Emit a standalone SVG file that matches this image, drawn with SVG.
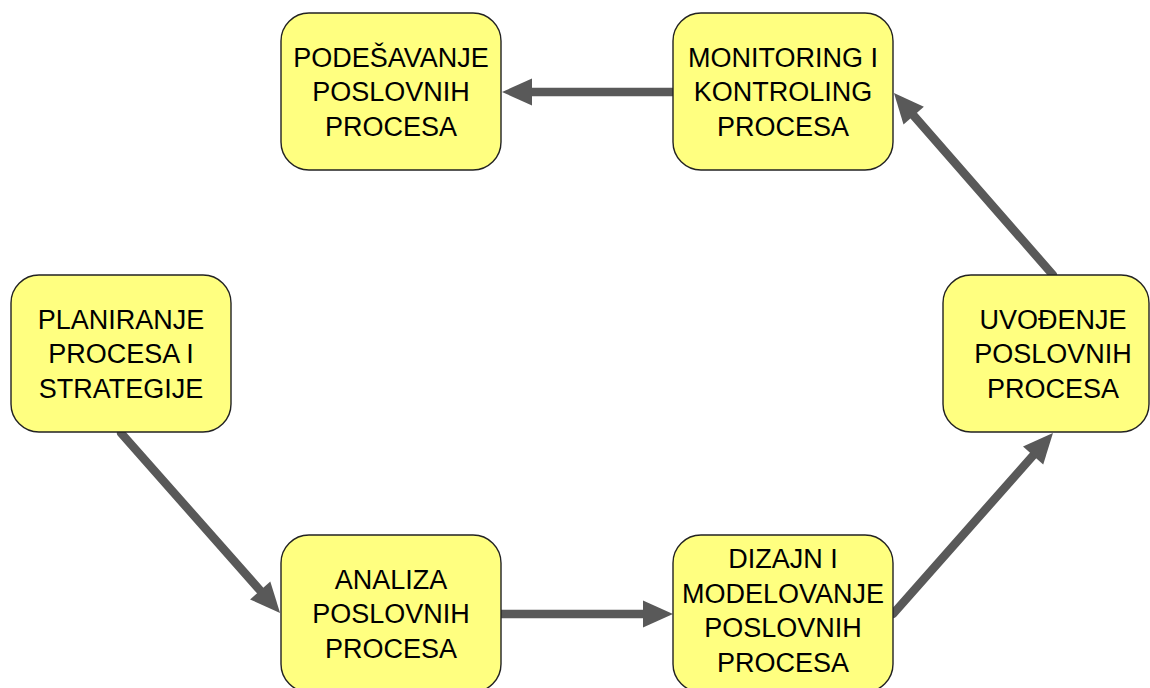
<svg xmlns="http://www.w3.org/2000/svg" width="1150" height="688" viewBox="0 0 1150 688">
  <style>
    .box { fill: #ffff80; stroke: #222222; stroke-width: 1.4; }
    .lbl { font-family: "Liberation Sans", Arial, sans-serif; font-size: 27px; fill: #000000; text-anchor: middle; }
    .flow { stroke: #595959; stroke-width: 8.5; stroke-linecap: round; fill: none; marker-end: url(#head); }
  </style>
  <defs>
    <marker id="head" markerUnits="userSpaceOnUse" markerWidth="32" markerHeight="30" viewBox="0 -15 32 30" refX="0" refY="0" orient="auto" overflow="visible">
      <path d="M0,-13.5 L30,0 L0,13.5 Z" fill="#595959"/>
    </marker>
  </defs>
  <rect width="1150" height="688" fill="#ffffff"/>

  <g id="connectors">
    <line class="flow" x1="673" y1="92" x2="532" y2="92"/>
    <line class="flow" x1="121" y1="433" x2="260.2" y2="590.5"/>
    <line class="flow" x1="501" y1="614" x2="643" y2="614"/>
    <line class="flow" x1="893" y1="614" x2="1033.1" y2="455.5"/>
    <line class="flow" x1="1053" y1="275" x2="913.7" y2="115.6"/>
  </g>

  <g id="podesavanje">
    <rect class="box" x="281" y="13" width="220" height="157" rx="28"/>
    <text class="lbl" x="391" y="66.5">PODEŠAVANJE</text>
    <text class="lbl" x="391" y="101">POSLOVNIH</text>
    <text class="lbl" x="391" y="135.5">PROCESA</text>
  </g>

  <g id="monitoring">
    <rect class="box" x="673" y="13" width="220" height="157" rx="28"/>
    <text class="lbl" x="783" y="66.5">MONITORING I</text>
    <text class="lbl" x="783" y="101">KONTROLING</text>
    <text class="lbl" x="783" y="135.5">PROCESA</text>
  </g>

  <g id="planiranje">
    <rect class="box" x="11" y="275" width="220" height="157" rx="28"/>
    <text class="lbl" x="121" y="328.5">PLANIRANJE</text>
    <text class="lbl" x="121" y="363">PROCESA I</text>
    <text class="lbl" x="121" y="397.5">STRATEGIJE</text>
  </g>

  <g id="uvodjenje">
    <rect class="box" x="943" y="275" width="206" height="157" rx="28"/>
    <text class="lbl" x="1053" y="328.5">UVOĐENJE</text>
    <text class="lbl" x="1053" y="363">POSLOVNIH</text>
    <text class="lbl" x="1053" y="397.5">PROCESA</text>
  </g>

  <g id="analiza">
    <rect class="box" x="281" y="535" width="220" height="157" rx="28"/>
    <text class="lbl" x="391" y="588.5">ANALIZA</text>
    <text class="lbl" x="391" y="623">POSLOVNIH</text>
    <text class="lbl" x="391" y="657.5">PROCESA</text>
  </g>

  <g id="dizajn">
    <rect class="box" x="673" y="535" width="220" height="157" rx="28"/>
    <text class="lbl" x="783" y="568">DIZAJN I</text>
    <text class="lbl" x="783" y="602.5">MODELOVANJE</text>
    <text class="lbl" x="783" y="637">POSLOVNIH</text>
    <text class="lbl" x="783" y="671.5">PROCESA</text>
  </g>
</svg>
